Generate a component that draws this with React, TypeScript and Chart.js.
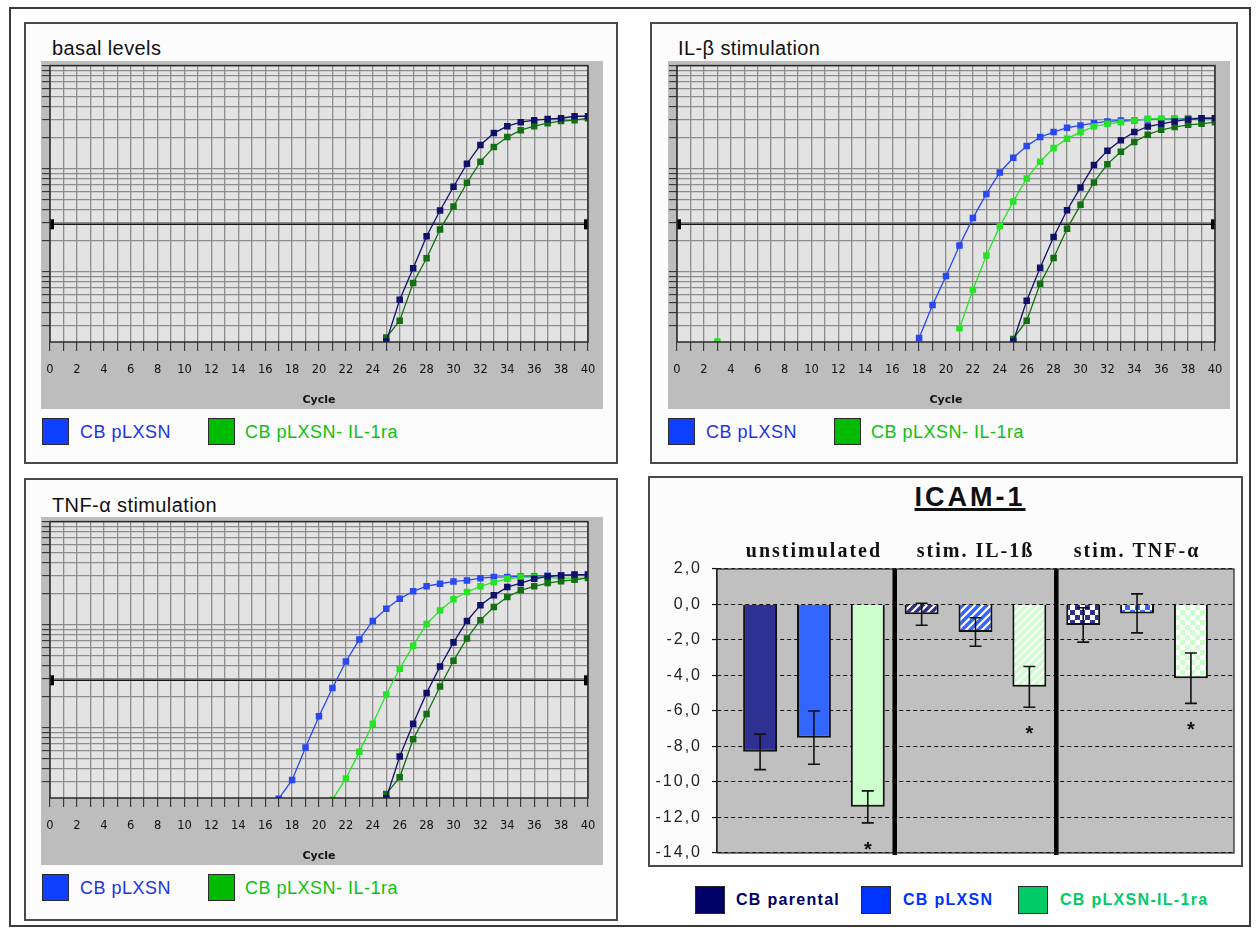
import React, { useEffect, useRef } from 'react';
import { Chart, registerables } from 'chart.js';

Chart.register(...registerables);

if (typeof document !== 'undefined') {
  document.body.style.margin = '0';
}

// ---------------- data ----------------
const CYCLE_MIN = 0;
const CYCLE_MAX = 40;
const cycleTicks = Array.from({ length: 41 }, (_, i) => i);
const Y_MIN = 0.0021;
const Y_MAX = 1;
const THRESHOLD = 0.029;

// basal levels (first cycle 25)
const basalRefPLXSN = [0.00212, 0.00538, 0.0109, 0.0222, 0.0395, 0.0671, 0.112, 0.17, 0.222, 0.259, 0.283, 0.296, 0.303, 0.309, 0.323, 0.323];
const basalRefIL1ra = [0.00232, 0.00338, 0.00784, 0.0136, 0.0259, 0.0431, 0.0733, 0.117, 0.163, 0.203, 0.237, 0.259, 0.277, 0.29, 0.296, 0.309];

// IL-beta stimulation
const il1bPLXSN = [0.00229, 0.00479, 0.00916, 0.0181, 0.0333, 0.0571, 0.0921, 0.128, 0.166, 0.203, 0.227, 0.25, 0.263, 0.277, 0.288, 0.294, 0.296, 0.301, 0.303, 0.305, 0.307, 0.309, 0.309]; // from cycle 18
const il1bIL1ra = [0.00285, 0.00671, 0.0145, 0.0277, 0.0482, 0.0807, 0.117, 0.159, 0.196, 0.227, 0.257, 0.273, 0.283, 0.294, 0.305, 0.305, 0.303, 0.303, 0.298, 0.303]; // from cycle 21
const il1bIL1raEarly = [0.00212]; // cycle 3
const il1bRefPLXSN = [0.00212, 0.00526, 0.011, 0.0218, 0.0397, 0.0661, 0.109, 0.15, 0.189, 0.227, 0.257, 0.273, 0.288, 0.301, 0.309, 0.309]; // from 25
const il1bRefIL1ra = [0.00225, 0.00338, 0.00771, 0.0137, 0.0263, 0.0448, 0.0738, 0.111, 0.146, 0.182, 0.214, 0.239, 0.254, 0.267, 0.273, 0.283]; // from 25

// TNF-alpha stimulation
const tnfPLXSN = [0.00206, 0.00314, 0.00647, 0.013, 0.0244, 0.0441, 0.0722, 0.109, 0.143, 0.179, 0.211, 0.237, 0.25, 0.263, 0.269, 0.283, 0.29, 0.291, 0.294, 0.296, 0.298, 0.301, 0.303, 0.303]; // from 17
const tnfIL1ra = [0.00202, 0.00325, 0.00588, 0.011, 0.0211, 0.0375, 0.0628, 0.102, 0.138, 0.177, 0.208, 0.236, 0.259, 0.279, 0.29, 0.29, 0.286, 0.283, 0.283, 0.283]; // from 21
const tnfRefPLXSN = [0.00209, 0.0053, 0.011, 0.0219, 0.0395, 0.0676, 0.109, 0.155, 0.193, 0.232, 0.254, 0.279, 0.294, 0.301, 0.307, 0.307]; // from 25
const tnfRefIL1ra = [0.0023, 0.00333, 0.00778, 0.0137, 0.0253, 0.0448, 0.0738, 0.111, 0.149, 0.186, 0.216, 0.236, 0.254, 0.265, 0.273, 0.285]; // from 25

// ICAM-1 bar chart
const groups = ['unstimulated', 'stim. IL-1ß', 'stim. TNF-α'];
const groupPositions = [0, 1, 2];
const separatorPositions = [0.5, 1.5];
const parentalMeans = [-8.3, -0.55, -1.15];
const parentalErrors = [1.0, 0.62, 0.97];
const pLXSNMeans = [-7.5, -1.55, -0.5];
const pLXSNErrors = [1.5, 0.8, 1.1];
const il1raMeans = [-11.4, -4.64, -4.15];
const il1raErrors = [0.9, 1.15, 1.42];
const il1raSignificant = [true, true, true];
const barYTicks = [2, 0, -2, -4, -6, -8, -10, -12, -14];

// ---------------- colours ----------------
const C_BLUE = '#2a48f0';
const C_LGREEN = '#24e424';
const C_NAVY = '#10106a';
const C_DGREEN = '#127012';

type Curve = { label: string; start: number; values: number[]; color: string; line?: boolean };

const logTicks: number[] = [];
for (let e = -3; e <= 0; e++) {
  for (let k = 1; k <= 9; k++) {
    const v = parseFloat((k * Math.pow(10, e)).toPrecision(3));
    if (v >= Y_MIN && v <= Y_MAX) logTicks.push(v);
  }
}

const framePlugin = {
  id: 'qpcrFrame',
  beforeDraw(chart: any) {
    const { ctx, chartArea: a, width, height } = chart;
    ctx.save();
    ctx.fillStyle = '#bdbdbd';
    ctx.fillRect(0, 0, width, height);
    ctx.fillStyle = '#e3e3e3';
    ctx.fillRect(a.left, a.top, a.right - a.left, a.bottom - a.top);
    ctx.restore();
  },
  afterDatasetsDraw(chart: any) {
    const { ctx } = chart;
    chart.data.datasets.forEach((ds: any, i: number) => {
      if (ds.label !== 'threshold') return;
      const pts = chart.getDatasetMeta(i).data;
      const p0 = pts[0];
      const p1 = pts[pts.length - 1];
      ctx.save();
      ctx.fillStyle = '#000';
      ctx.fillRect(p0.x, p0.y - 5, 4, 10);
      ctx.fillRect(p1.x - 4, p1.y - 5, 4, 10);
      ctx.restore();
    });
  },
  afterDraw(chart: any) {
    const { ctx, chartArea: a } = chart;
    ctx.save();
    ctx.strokeStyle = '#2a2a2a';
    ctx.lineWidth = 1.5;
    ctx.strokeRect(a.left, a.top, a.right - a.left, a.bottom - a.top);
    ctx.restore();
  },
};

function LineCanvas({ left, top, curves }: { left: number; top: number; curves: Curve[] }) {
  const ref = useRef<HTMLCanvasElement>(null);
  useEffect(() => {
    const datasets: any[] = curves.map((c) => ({
      label: c.label,
      data: c.values.map((v, i) => ({ x: c.start + i, y: v })),
      borderColor: c.color,
      backgroundColor: c.color,
      borderWidth: 1.3,
      showLine: c.line !== false,
      pointStyle: 'rect',
      pointRadius: 4.6,
      pointBackgroundColor: c.color,
      pointBorderColor: c.color,
      pointBorderWidth: 0,
      order: 1,
    }));
    datasets.push({
      label: 'threshold',
      data: [
        { x: CYCLE_MIN, y: THRESHOLD },
        { x: CYCLE_MAX, y: THRESHOLD },
      ],
      borderColor: '#151515',
      borderWidth: 1.6,
      pointRadius: 0,
      order: 10,
    });
    const gridBase = { color: '#8d8d8d', lineWidth: 1.3, tickColor: '#222', tickWidth: 1 };
    const chart = new Chart(ref.current!, {
      type: 'line',
      data: { datasets },
      options: {
        animation: false,
        responsive: false,
        devicePixelRatio: 1,
        layout: { padding: { top: 2, right: 15, left: 0, bottom: 0 } },
        plugins: { legend: { display: false }, tooltip: { enabled: false } },
        scales: {
          x: {
            type: 'linear',
            min: CYCLE_MIN,
            max: CYCLE_MAX,
            afterBuildTicks: (s: any) => {
              s.ticks = cycleTicks.map((v) => ({ value: v }));
            },
            afterFit: (s: any) => {
              s.height = 67;
              s.paddingLeft = 0;
              s.paddingRight = 0;
            },
            ticks: {
              autoSkip: false,
              maxRotation: 0,
              padding: 12,
              color: '#111',
              font: { family: 'DejaVu Sans', size: 11.5 },
              callback: (v: any) => (Number(v) % 2 === 0 ? String(v) : ''),
            },
            grid: { ...gridBase, tickLength: 9 },
            border: { display: false },
            title: {
              display: true,
              text: 'Cycle',
              color: '#111',
              font: { family: 'DejaVu Sans', size: 11, weight: 'bold' },
              padding: { top: 0, bottom: 2 },
            },
          },
          y: {
            type: 'logarithmic',
            min: Y_MIN,
            max: Y_MAX,
            afterBuildTicks: (s: any) => {
              s.ticks = logTicks.map((v) => ({ value: v }));
            },
            afterFit: (s: any) => {
              s.width = 9;
              s.paddingTop = 0;
              s.paddingBottom = 0;
            },
            ticks: { display: false },
            grid: { ...gridBase, tickLength: 8 },
            border: { display: false },
          },
        },
      } as any,
      plugins: [framePlugin],
    });
    return () => chart.destroy();
  }, []);
  return <canvas ref={ref} width={562} height={348} style={{ position: 'absolute', left, top, width: 562, height: 348 }} />;
}

function stripePattern(base: string): CanvasPattern | string {
  const c = document.createElement('canvas');
  c.width = 8;
  c.height = 8;
  const g = c.getContext('2d')!;
  g.fillStyle = base;
  g.fillRect(0, 0, 8, 8);
  g.strokeStyle = '#ffffff';
  g.lineWidth = 2.2;
  g.beginPath();
  g.moveTo(-2, 10);
  g.lineTo(10, -2);
  g.moveTo(-2, 2);
  g.lineTo(2, -2);
  g.moveTo(6, 10);
  g.lineTo(10, 6);
  g.stroke();
  return g.createPattern(c, 'repeat') || base;
}

function checkerPattern(base: string): CanvasPattern | string {
  const c = document.createElement('canvas');
  c.width = 10;
  c.height = 10;
  const g = c.getContext('2d')!;
  g.fillStyle = base;
  g.fillRect(0, 0, 10, 10);
  g.fillStyle = '#ffffff';
  g.fillRect(5, 0, 5, 5);
  g.fillRect(0, 5, 5, 5);
  return g.createPattern(c, 'repeat') || base;
}

const barSeries = [
  { label: 'CB parental', means: parentalMeans, errors: parentalErrors, color: '#2e3192', sig: [false, false, false] },
  { label: 'CB pLXSN', means: pLXSNMeans, errors: pLXSNErrors, color: '#3366ff', sig: [false, false, false] },
  { label: 'CB pLXSN-IL-1ra', means: il1raMeans, errors: il1raErrors, color: '#ccffcc', sig: il1raSignificant },
];

const barPlugin = {
  id: 'icamDecor',
  beforeDraw(chart: any) {
    const { ctx, chartArea: a } = chart;
    ctx.letterSpacing = '2px';
    ctx.save();
    ctx.fillStyle = '#c0c0c0';
    ctx.fillRect(a.left, a.top, a.right - a.left, a.bottom - a.top);
    ctx.restore();
  },
  afterDatasetsDraw(chart: any) {
    const { ctx, chartArea: a } = chart;
    const xs = chart.scales.x;
    const ys = chart.scales.y;
    ctx.save();
    ctx.strokeStyle = '#000';
    ctx.lineWidth = 4.5;
    separatorPositions.forEach((p) => {
      const x = xs.getPixelForValue(p);
      ctx.beginPath();
      ctx.moveTo(x, a.top);
      ctx.lineTo(x, a.bottom + 2);
      ctx.stroke();
    });
    ctx.lineWidth = 1.6;
    ctx.strokeStyle = '#111';
    ctx.fillStyle = '#111';
    barSeries.forEach((s, di) => {
      const meta = chart.getDatasetMeta(di);
      meta.data.forEach((el: any, i: number) => {
        const yT = ys.getPixelForValue(s.means[i] + s.errors[i]);
        const yB = ys.getPixelForValue(s.means[i] - s.errors[i]);
        ctx.beginPath();
        ctx.moveTo(el.x, yT);
        ctx.lineTo(el.x, yB);
        ctx.moveTo(el.x - 6, yT);
        ctx.lineTo(el.x + 6, yT);
        ctx.moveTo(el.x - 6, yB);
        ctx.lineTo(el.x + 6, yB);
        ctx.stroke();
        if (s.sig[i]) {
          ctx.font = 'bold 20px "Liberation Sans"';
          ctx.textAlign = 'center';
          ctx.textBaseline = 'alphabetic';
          ctx.fillText('*', el.x + 1, yB + 33);
        }
      });
    });
    ctx.restore();
  },
  afterDraw(chart: any) {
    const { ctx, chartArea: a } = chart;
    ctx.save();
    ctx.strokeStyle = '#222';
    ctx.lineWidth = 1.2;
    ctx.strokeRect(a.left, a.top, a.right - a.left, a.bottom - a.top);
    ctx.restore();
    ctx.letterSpacing = '0px';
  },
};

function BarCanvas({ left, top }: { left: number; top: number }) {
  const ref = useRef<HTMLCanvasElement>(null);
  useEffect(() => {
    const datasets = barSeries.map((s) => ({
      label: s.label,
      data: groupPositions.map((x, i) => ({ x, y: s.means[i] })),
      backgroundColor: [s.color, stripePattern(s.color), checkerPattern(s.color)],
      borderColor: '#111',
      borderWidth: 2,
      categoryPercentage: 1.0,
      barPercentage: 0.63,
    }));
    const chart = new Chart(ref.current!, {
      type: 'bar',
      data: { datasets },
      options: {
        animation: false,
        responsive: false,
        devicePixelRatio: 1,
        layout: { padding: { top: 0, right: 8, left: 0, bottom: 7 } },
        plugins: { legend: { display: false }, tooltip: { enabled: false } },
        scales: {
          x: {
            type: 'linear',
            position: 'top',
            min: -0.6,
            max: 2.6,
            offset: false,
            afterBuildTicks: (s: any) => {
              s.ticks = groupPositions.map((v) => ({ value: v }));
            },
            afterFit: (s: any) => {
              s.height = 39;
              s.paddingLeft = 0;
              s.paddingRight = 0;
            },
            ticks: {
              autoSkip: false,
              maxRotation: 0,
              padding: 5,
              color: '#111',
              font: { family: 'Liberation Serif', size: 20, weight: 'bold' },
              callback: (_v: any, i: number) => groups[i],
            },
            grid: { display: false, drawTicks: false },
            border: { display: false },
          },
          y: {
            min: -14,
            max: 2,
            afterBuildTicks: (s: any) => {
              s.ticks = barYTicks.map((v) => ({ value: v }));
            },
            afterFit: (s: any) => {
              s.width = 67;
              s.paddingTop = 0;
              s.paddingBottom = 0;
            },
            ticks: {
              padding: 10,
              color: '#222',
              font: { family: 'Liberation Sans', size: 16 },
              callback: (v: any) => Number(v).toFixed(1).replace('.', ','),
            },
            grid: { color: '#111', lineWidth: 1.1, tickLength: 5, tickColor: '#111', tickWidth: 1.2, tickBorderDash: [] },
            border: { display: true, color: '#222', width: 1.2, dash: [4, 3] },
          },
        },
      } as any,
      plugins: [barPlugin],
    });
    return () => chart.destroy();
  }, []);
  return <canvas ref={ref} width={592} height={330} style={{ position: 'absolute', left, top, width: 592, height: 330 }} />;
}

function Box({ left, top, width, height }: { left: number; top: number; width: number; height: number }) {
  return (
    <div
      style={{
        position: 'absolute',
        left,
        top,
        width,
        height,
        border: '2px solid #4a4a4a',
        background: '#fcfcfc',
        boxSizing: 'border-box',
      }}
    />
  );
}

function Text({ left, top, children, style }: any) {
  return (
    <div style={{ position: 'absolute', left, top, whiteSpace: 'nowrap', lineHeight: '24px', ...style }}>{children}</div>
  );
}

function Swatch({ left, top, color, w = 27, h = 27 }: any) {
  return (
    <div
      style={{
        position: 'absolute',
        left,
        top,
        width: w,
        height: h,
        background: color,
        border: '1.5px solid #2a2a2a',
        boxSizing: 'border-box',
      }}
    />
  );
}

const titleStyle = { fontFamily: '"Liberation Sans", Arial, sans-serif', fontSize: 20, color: '#111', letterSpacing: '0.4px' };
const legStyle = { fontFamily: '"Liberation Sans", Arial, sans-serif', fontSize: 18, letterSpacing: '0.5px' };

function QpcrLegend({ left, top }: { left: number; top: number }) {
  return (
    <>
      <Swatch left={left} top={top} color="#1040ff" />
      <Text left={left + 38} top={top + 2} style={{ ...legStyle, color: '#2232e0' }}>
        CB pLXSN
      </Text>
      <Swatch left={left + 166} top={top} color="#00bb00" />
      <Text left={left + 203} top={top + 2} style={{ ...legStyle, color: '#10c010' }}>
        CB pLXSN- IL-1ra
      </Text>
    </>
  );
}

const basalCurves: Curve[] = [
  { label: 'CB pLXSN (ref)', start: 25, values: basalRefPLXSN, color: C_NAVY },
  { label: 'CB pLXSN-IL-1ra (ref)', start: 25, values: basalRefIL1ra, color: C_DGREEN },
];
const il1bCurves: Curve[] = [
  { label: 'CB pLXSN (ref)', start: 25, values: il1bRefPLXSN, color: C_NAVY },
  { label: 'CB pLXSN-IL-1ra (ref)', start: 25, values: il1bRefIL1ra, color: C_DGREEN },
  { label: 'CB pLXSN-IL-1ra', start: 21, values: il1bIL1ra, color: C_LGREEN },
  { label: 'CB pLXSN-IL-1ra early', start: 3, values: il1bIL1raEarly, color: C_LGREEN, line: false },
  { label: 'CB pLXSN', start: 18, values: il1bPLXSN, color: C_BLUE },
];
const tnfCurves: Curve[] = [
  { label: 'CB pLXSN (ref)', start: 25, values: tnfRefPLXSN, color: C_NAVY },
  { label: 'CB pLXSN-IL-1ra (ref)', start: 25, values: tnfRefIL1ra, color: C_DGREEN },
  { label: 'CB pLXSN-IL-1ra', start: 21, values: tnfIL1ra, color: C_LGREEN },
  { label: 'CB pLXSN', start: 17, values: tnfPLXSN, color: C_BLUE },
];

export default function App() {
  const barLeg = { fontFamily: '"Liberation Sans", Arial, sans-serif', fontSize: 16, fontWeight: 'bold', letterSpacing: '1.3px' };
  return (
    <div style={{ position: 'relative', width: 1258, height: 928, overflow: 'hidden', background: '#fff' }}>
      <div
        style={{
          position: 'absolute',
          left: 9,
          top: 7,
          width: 1242,
          height: 920,
          border: '2px solid #3a3a3a',
          boxSizing: 'border-box',
        }}
      />
      {/* panel 1 */}
      <Box left={24} top={22} width={594} height={442} />
      <Text left={52} top={36} style={titleStyle}>
        basal levels
      </Text>
      <LineCanvas left={41} top={61} curves={basalCurves} />
      <QpcrLegend left={42} top={418} />

      {/* panel 2 */}
      <Box left={650} top={22} width={588} height={442} />
      <Text left={678} top={36} style={titleStyle}>
        IL-β stimulation
      </Text>
      <LineCanvas left={668} top={61} curves={il1bCurves} />
      <QpcrLegend left={668} top={418} />

      {/* panel 3 */}
      <Box left={24} top={478} width={594} height={443} />
      <Text left={52} top={493} style={titleStyle}>
        TNF-α stimulation
      </Text>
      <LineCanvas left={41} top={517} curves={tnfCurves} />
      <QpcrLegend left={42} top={874} />

      {/* panel 4 */}
      <Box left={648} top={476} width={595} height={391} />
      <div
        style={{
          position: 'absolute',
          left: 820,
          top: 480,
          width: 300,
          textAlign: 'center',
          fontFamily: '"Liberation Sans", Arial, sans-serif',
          fontWeight: 'bold',
          fontSize: 27,
          lineHeight: '34px',
          letterSpacing: '3px',
          textDecoration: 'underline',
          textDecorationThickness: '3px',
          color: '#111',
        }}
      >
        ICAM-1
      </div>
      <BarCanvas left={650} top={530} />
      <Swatch left={695} top={886} w={30} h={28} color="#000066" />
      <Text left={736} top={888} style={{ ...barLeg, color: '#000066' }}>
        CB parental
      </Text>
      <Swatch left={861} top={886} w={30} h={28} color="#0033ff" />
      <Text left={903} top={888} style={{ ...barLeg, color: '#0033ff' }}>
        CB pLXSN
      </Text>
      <Swatch left={1018} top={886} w={30} h={28} color="#00cc66" />
      <Text left={1060} top={888} style={{ ...barLeg, color: '#00cc66' }}>
        CB pLXSN-IL-1ra
      </Text>
    </div>
  );
}
